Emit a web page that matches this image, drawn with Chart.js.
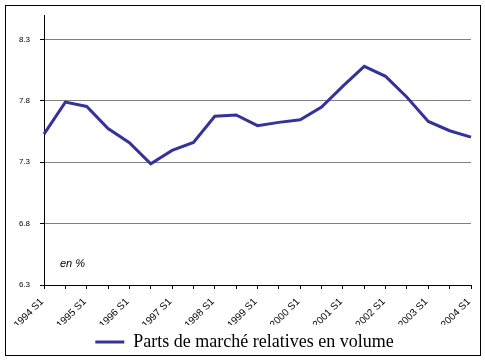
<!DOCTYPE html>
<html>
<head>
<meta charset="utf-8">
<script src="https://cdn.jsdelivr.net/npm/chart.js@4"></script>
<style>
  html, body { margin: 0; padding: 0; background: #fff; }
  #wrap { width: 485px; height: 362px; }
</style>
</head>
<body>
<div id="wrap"><canvas id="myChart" width="485" height="362"></canvas></div>
<script>
const periods = [
    "1994 S1", "1994 S2", "1995 S1", "1995 S2", "1996 S1", "1996 S2",
    "1997 S1", "1997 S2", "1998 S1", "1998 S2", "1999 S1", "1999 S2",
    "2000 S1", "2000 S2", "2001 S1", "2001 S2", "2002 S1", "2002 S2",
    "2003 S1", "2003 S2", "2004 S1",
];
const parts = [
    7.53, 7.79, 7.755, 7.575, 7.46, 7.288,
    7.397, 7.462, 7.675, 7.685, 7.598, 7.625,
    7.647, 7.75, 7.92, 8.082, 8.0, 7.83,
    7.633, 7.557, 7.505,
];
const yTicks = [6.3, 6.8, 7.3, 7.8, 8.3];
const seriesName = "Parts de marché relatives en volume";
const unitNote = "en %";

const ctx = document.querySelector("#myChart");

const frame = {
    id: "frame",
    beforeDraw: (chart) => {
        const { ctx } = chart;
        ctx.save();
        ctx.fillStyle = "#fff";
        ctx.fillRect(0, 0, chart.width, chart.height);
        ctx.restore();
    },
    afterLayout: (chart) => {
        // legend sits a bit right of centre in the original
        chart.legend.left += 9;
        chart.legend.right += 9;
    },
    afterDraw: (chart) => {
        const { ctx, chartArea } = chart;
        ctx.save();
        ctx.strokeStyle = "#000";
        ctx.lineWidth = 1;
        ctx.strokeRect(5.5, 5.5, 475, 350);
        ctx.fillStyle = "#000";
        ctx.font = "italic 11px 'Liberation Sans'";
        ctx.textBaseline = "middle";
        ctx.fillText(unitNote, chartArea.left + 16, chartArea.bottom - 21);
        ctx.restore();
    },
};

new Chart(ctx, {
    type: "line",
    data: {
        labels: periods,
        datasets: [
            {
                label: seriesName,
                data: parts,
                borderColor: "#333399",
                backgroundColor: "#333399",
                borderWidth: 3,
                pointRadius: 0,
                tension: 0,
            },
        ],
    },
    options: {
        responsive: false,
        animation: false,
        events: [],
        layout: {
            padding: { left: 0, right: 14, top: 15, bottom: 1 },
        },
        plugins: {
            legend: {
                position: "bottom",
                labels: {
                    usePointStyle: true,
                    pointStyle: "line",
                    pointStyleWidth: 29,
                    padding: 8,
                    color: "#000",
                    font: { family: "'Liberation Serif'", size: 18 },
                },
            },
            tooltip: { enabled: false },
        },
        scales: {
            y: {
                min: 6.3,
                max: 8.5,
                afterBuildTicks: (scale) => {
                    scale.ticks = yTicks.map((v) => ({ value: v }));
                },
                afterFit: (scale) => {
                    scale.width = 44;
                },
                border: { color: "#000", width: 1 },
                grid: {
                    color: "#808080",
                    tickColor: "#000",
                    tickLength: 4,
                },
                ticks: {
                    color: "#000",
                    padding: 10,
                    font: { family: "'Liberation Sans'", size: 8 },
                    callback: (v) => Number(v).toFixed(1),
                },
            },
            x: {
                afterFit: (scale) => {
                    scale.height = 40;
                },
                border: { color: "#000", width: 1 },
                grid: {
                    drawOnChartArea: false,
                    tickColor: "#000",
                    tickLength: 4,
                },
                ticks: {
                    color: "#000",
                    autoSkip: false,
                    maxRotation: 45,
                    minRotation: 45,
                    padding: 5,
                    font: { family: "'Liberation Sans'", size: 10 },
                    callback: function (value, index) {
                        return index % 2 === 0 ? this.getLabelForValue(value) + " " : "";
                    },
                },
            },
        },
    },
    plugins: [frame],
});
</script>
</body>
</html>
